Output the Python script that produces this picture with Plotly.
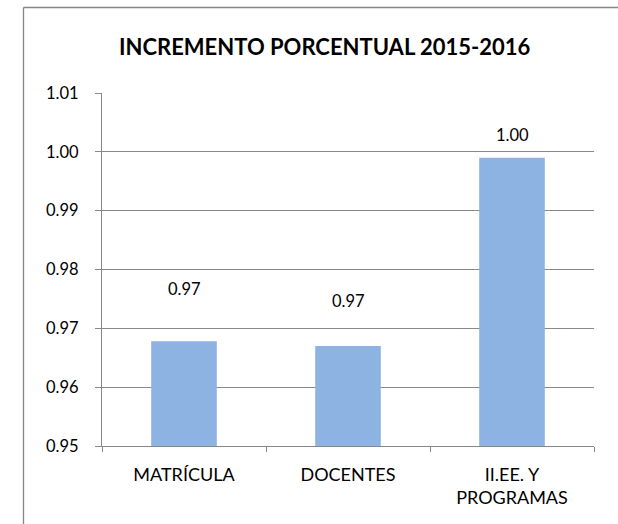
import plotly.graph_objects as go

categories = ["MATRÍCULA", "DOCENTES", "II.EE. Y<br>PROGRAMAS"]
values = [0.9678, 0.9670, 0.9990]
label_texts = ["0.97", "0.97", "1.00"]
y_ticks = [0.95, 0.96, 0.97, 0.98, 0.99, 1.00, 1.01]
y_tick_labels = ["0.95", "0.96", "0.97", "0.98", "0.99", "1.00", "1.01"]

# styling: pixel offsets of manually placed data labels above bar tops
label_yshift = [52, 45, 23]

W, H = 618, 524
L, R, T, B = 102, 24, 93, 78
pw, ph = W - L - R, H - T - B

def px_to_paper_x(px):
    return (px - L) / pw

def py_to_paper_y(py):
    return (H - B - py) / ph

FONT = "Lato"

fig = go.Figure()
fig.add_trace(go.Bar(
    x=categories, y=values, width=0.4,
    marker=dict(color="#8DB3E2", line=dict(width=0)),
    hoverinfo="skip",
))

for c, v, t, s in zip(categories, values, label_texts, label_yshift):
    fig.add_annotation(x=c, y=v, text=t, showarrow=False, yshift=s,
                       font=dict(family=FONT, size=16.5, color="#000000"))

fig.add_annotation(xref="paper", yref="paper",
                   x=px_to_paper_x(325), y=py_to_paper_y(47),
                   text="<b>INCREMENTO PORCENTUAL 2015-2016</b>", showarrow=False,
                   font=dict(family=FONT, size=22, color="#000000"),
                   xanchor="center", yanchor="middle")

# chart-area frame (visible parts: top and left edges)
border = dict(color="#868686", width=1.3)
fig.add_shape(type="line", xref="paper", yref="paper",
              x0=px_to_paper_x(23.5), x1=px_to_paper_x(W),
              y0=py_to_paper_y(7.5), y1=py_to_paper_y(7.5), line=border)
fig.add_shape(type="line", xref="paper", yref="paper",
              x0=px_to_paper_x(23.5), x1=px_to_paper_x(23.5),
              y0=py_to_paper_y(7.5), y1=py_to_paper_y(H), line=border)

fig.update_layout(
    width=W, height=H,
    margin=dict(l=L, r=R, t=T, b=B, pad=0),
    paper_bgcolor="white", plot_bgcolor="white",
    showlegend=False,
    font=dict(family=FONT, size=18, color="#000000"),
)
fig.update_xaxes(
    type="category", showgrid=False, showline=True, linecolor="#888888", linewidth=1.3,
    ticks="outside", tickson="boundaries", ticklen=5, tickcolor="#888888", tickwidth=1.3,
    tickfont=dict(family=FONT, size=18, color="#000000"), ticklabelstandoff=12,
    fixedrange=True,
)
fig.update_yaxes(
    range=[0.95, 1.01], tickvals=y_ticks, ticktext=y_tick_labels,
    showgrid=True, gridcolor="#888888", gridwidth=1.3,
    showline=True, linecolor="#888888", linewidth=1.3,
    ticks="outside", ticklen=6, tickcolor="#888888", tickwidth=1.3,
    tickfont=dict(family=FONT, size=16.5, color="#000000"), ticklabelstandoff=13,
    zeroline=False, fixedrange=True,
)

fig.write_html("out.html",
               config={"displayModeBar": False},
               post_script="document.body.style.margin='0';document.body.style.overflow='hidden';")
